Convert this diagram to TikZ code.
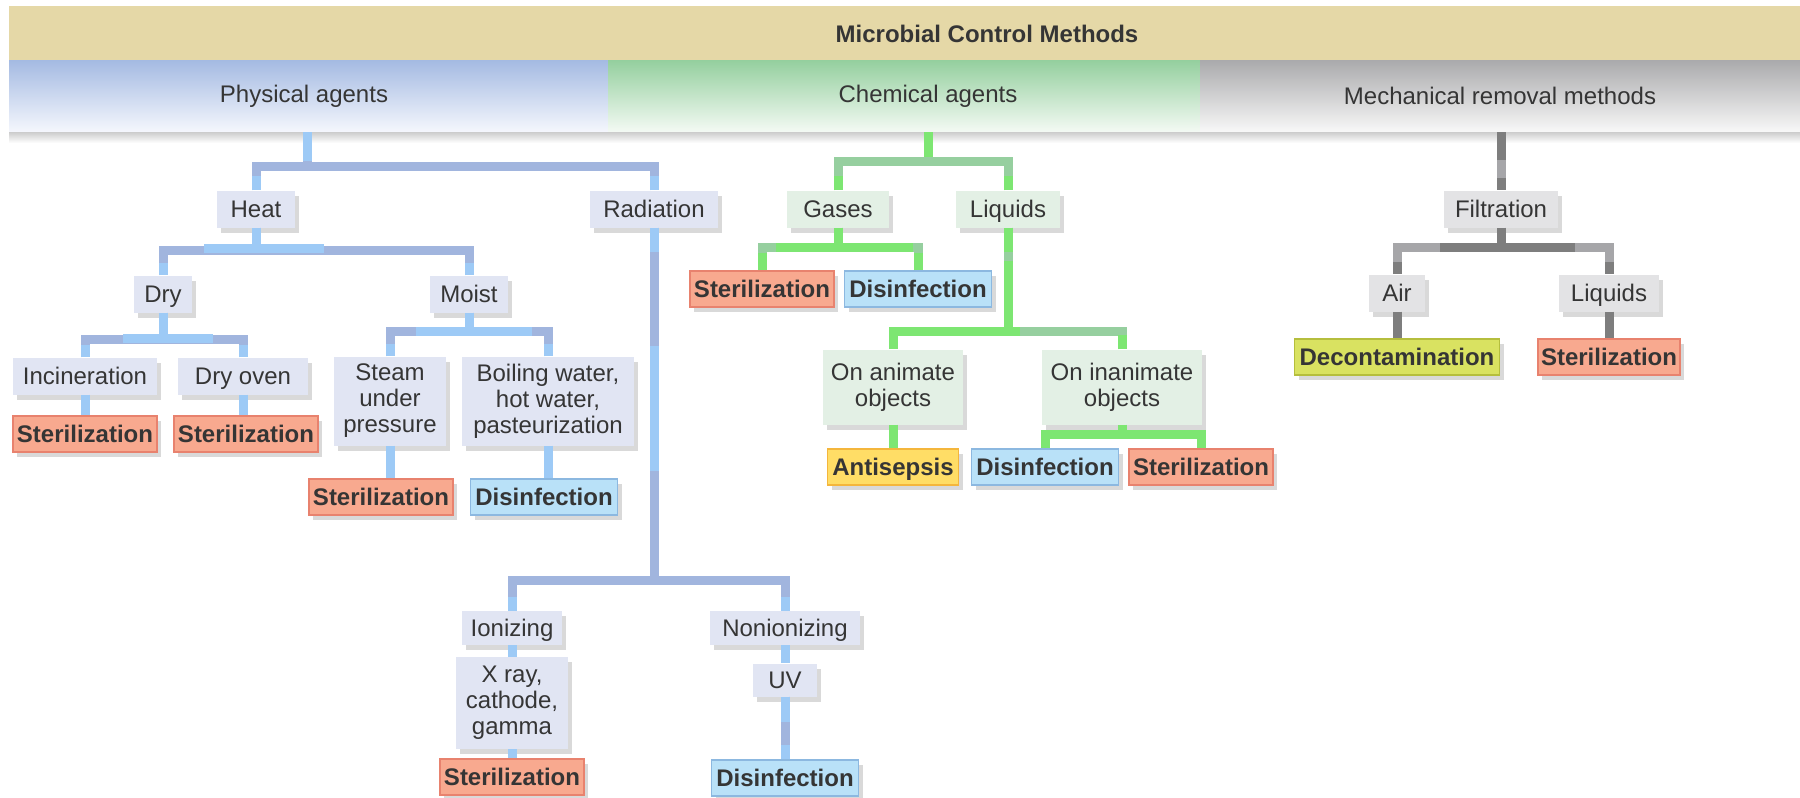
\documentclass[tikz,border=0pt]{standalone}
\usepackage{fontspec}
\setmainfont{Liberation Sans}
\usetikzlibrary{shadows}
\definecolor{tanc}{HTML}{E5D8A7}
\definecolor{pbt}{HTML}{A4BAE2}
\definecolor{pbb}{HTML}{F5F7FD}
\definecolor{cbt}{HTML}{94CF9E}
\definecolor{cbb}{HTML}{F4FAF4}
\definecolor{mbt}{HTML}{AAAAAC}
\definecolor{mbb}{HTML}{F8F8F8}
\definecolor{pfill}{HTML}{E1E5F3}
\definecolor{cfill}{HTML}{E3F0E5}
\definecolor{mfill}{HTML}{E3E3E5}
\definecolor{sterF}{HTML}{F8A98F}
\definecolor{sterD}{HTML}{E8826E}
\definecolor{disF}{HTML}{B9E1F8}
\definecolor{disD}{HTML}{8CB8E0}
\definecolor{antiF}{HTML}{FFDD66}
\definecolor{antiD}{HTML}{F4B63C}
\definecolor{deconF}{HTML}{D9E261}
\definecolor{deconD}{HTML}{B5BE3D}
\definecolor{txt}{HTML}{353535}
\definecolor{bmain}{HTML}{A1B5DE}
\definecolor{bacc}{HTML}{9DCAF6}
\definecolor{gmain}{HTML}{96CF9F}
\definecolor{gacc}{HTML}{7DE672}
\definecolor{kmain}{HTML}{7E7E7E}
\definecolor{kacc}{HTML}{A6A6A9}
\newcommand\myfs{\fontsize{24}{26}\selectfont}
\begin{document}
\begin{tikzpicture}[x=1pt,y=-1pt,
  boxbase/.style={font=\myfs, text=txt, align=center, inner sep=0pt, minimum height=37,
    drop shadow={shadow xshift=4pt, shadow yshift=-5pt, opacity=0.15, fill=black}},
  oneline/.style={text height=20pt, text depth=3pt},
  pbox/.style={boxbase, oneline, fill=pfill},
  cbox/.style={boxbase, oneline, fill=cfill},
  mbox/.style={boxbase, oneline, fill=mfill},
  pmulti/.style={boxbase, fill=pfill},
  cmulti/.style={boxbase, fill=cfill},
  resbox/.style={boxbase, oneline, font=\myfs\bfseries, line width=1.2pt, minimum height=36},
  sterbox/.style={resbox, fill=sterF, draw=sterD, minimum width=144},
  disbox/.style={resbox, fill=disF, draw=disD, minimum width=147},
  antibox/.style={resbox, fill=antiF, draw=antiD, minimum width=131},
  deconbox/.style={resbox, fill=deconF, draw=deconD, minimum width=205},
  bandlabel/.style={font=\myfs, text=txt},
  bconn/.style={draw=bmain, line width=9pt},
  bhi/.style={draw=bacc, line width=9pt},
  gconn/.style={draw=gmain, line width=9pt},
  ghi/.style={draw=gacc, line width=9pt},
  kconn/.style={draw=kmain, line width=9pt},
  khi/.style={draw=kacc, line width=9pt}]
\useasboundingbox (0,0) rectangle (1800,798);
\fill[white] (0,0) rectangle (1800,798);

% ---------- banner ----------
\fill[tanc] (9,6) rectangle (1800,60);
\shade[top color=pbt, bottom color=pbb] (9,60) rectangle (608,132);
\shade[top color=cbt, bottom color=cbb] (608,60) rectangle (1200,132);
\shade[top color=mbt, bottom color=mbb] (1200,60) rectangle (1800,132);
\shade[top color=black!20, bottom color=white] (9,132) rectangle (1800,143);
\node[font=\myfs\bfseries, text=txt] (title) at (987,34) {Microbial Control Methods};
\node[bandlabel] (pa) at (304,96) {Physical agents};
\node[bandlabel] (ca) at (928,96) {Chemical agents};
\node[bandlabel] (ma) at (1500,96) {Mechanical removal methods};

% ---------- physical nodes ----------
\node[pbox, minimum width=78] (heat) at (256,209) {Heat};
\node[pbox, minimum width=128] (rad) at (654,209) {Radiation};
\node[pbox, minimum width=58] (dry) at (163,294) {Dry};
\node[pbox, minimum width=78] (moist) at (469,294) {Moist};
\node[pbox, minimum width=144] (inc) at (85,376) {Incineration};
\node[pbox, minimum width=130] (oven) at (243,376) {Dry oven};
\node[pmulti, minimum width=112, minimum height=89] (steam) at (390,401) {Steam\\under\\pressure};
\node[pmulti, minimum width=172, minimum height=89] (boil) at (548,401) {Boiling water,\\hot water,\\pasteurization};
\node[pbox, minimum width=100, minimum height=34] (ion) at (512,628) {Ionizing};
\node[pbox, minimum width=150, minimum height=34] (nonion) at (785,628) {Nonionizing};
\node[pmulti, minimum width=112, minimum height=92] (xray) at (512,703) {X ray,\\cathode,\\gamma};
\node[pbox, minimum width=64, minimum height=33] (uv) at (785,680) {UV};
\node[sterbox] (s1) at (85,434) {Sterilization};
\node[sterbox] (s2) at (246,434) {Sterilization};
\node[sterbox] (s3) at (381,497) {Sterilization};
\node[disbox] (d1) at (544,497) {Disinfection};
\node[sterbox] (s4) at (512,777) {Sterilization};
\node[disbox] (d2) at (785,778) {Disinfection};

% ---------- chemical nodes ----------
\node[cbox, minimum width=102] (gas) at (838,209) {Gases};
\node[cbox, minimum width=104] (liq) at (1008,209) {Liquids};
\node[sterbox] (s5) at (762,289) {Sterilization};
\node[disbox] (d3) at (918,289) {Disinfection};
\node[cmulti, minimum width=140, minimum height=75] (anim) at (893,387) {On animate\\objects};
\node[cmulti, minimum width=160, minimum height=75] (inanim) at (1122,387) {On inanimate\\objects};
\node[antibox] (anti) at (893,467) {Antisepsis};
\node[disbox] (d4) at (1045,467) {Disinfection};
\node[sterbox] (s6) at (1201,467) {Sterilization};

% ---------- mechanical nodes ----------
\node[mbox, minimum width=114] (filt) at (1501,209) {Filtration};
\node[mbox, minimum width=56] (air) at (1397,293) {Air};
\node[mbox, minimum width=100] (liq2) at (1609,293) {Liquids};
\node[deconbox] (decon) at (1397,357) {Decontamination};
\node[sterbox, minimum width=142] (s7) at (1609,357) {Sterilization};

% ---------- junctions ----------
\coordinate (paB) at (307,132);
\coordinate (pj) at (307,166);
\coordinate (hj) at (256,250);
\coordinate (dj) at (163,339);
\coordinate (mj) at (469,331);
\coordinate (rj) at (654,580);
\coordinate (caB) at (928,132);
\coordinate (cj) at (928,161);
\coordinate (gj) at (838,247);
\coordinate (lj) at (1008,331);
\coordinate (ij) at (1122,434);
\coordinate (maB) at (1501,132);
\coordinate (fj) at (1501,247);

% ---------- physical connectors ----------
\draw[bconn] (paB) -- (pj) -| (heat.north);
\draw[bconn] (pj) -| (rad.north);
\draw[bconn] (heat.south) -- (hj) -| (dry.north);
\draw[bconn] (hj) -| (moist.north);
\draw[bconn] (dry.south) -- (dj) -| (inc.north);
\draw[bconn] (dj) -| (oven.north);
\draw[bconn] (moist.south) -- (mj) -| (steam.north);
\draw[bconn] (mj) -| (boil.north);
\draw[bconn] (rad.south) -- (rj) -| (ion.north);
\draw[bconn] (rj) -| (nonion.north);
\draw[bconn] (uv.south) -- (d2.north);
% highlights
\draw[bhi] (paB) -- ++(0,29);
\draw[bhi] (heat.north) -- ++(0,-14);
\draw[bhi] (rad.north) -- ++(0,-14);
\draw[bhi] (heat.south) -- ++(0,18);
\draw[bhi] (hj) ++(-52,-2) -- ++(120,0);
\draw[bhi] (dry.north) -- ++(0,-12);
\draw[bhi] (moist.north) -- ++(0,-12);
\draw[bhi] (dry.south) -- ++(0,22);
\draw[bhi] (moist.south) -- ++(0,14);
\draw[bhi] (dj) ++(-40,-1) -- ++(90,0);
\draw[bhi] (mj) ++(-53,0) -- ++(116,0);
\draw[bhi] (inc.north) -- ++(0,-12);
\draw[bhi] (oven.north) -- ++(0,-12);
\draw[bhi] (steam.north) -- ++(0,-12);
\draw[bhi] (boil.north) -- ++(0,-12);
\draw[bhi] (inc.south) -- (inc.south |- s1.north);
\draw[bhi] (oven.south) -- (oven.south |- s2.north);
\draw[bhi] (steam.south) -- (steam.south |- s3.north);
\draw[bhi] (boil.south) -- (boil.south |- d1.north);
\draw[bhi] (rad.south) -- ++(0,24);
\draw[bhi] (rad.south) ++(0,118) -- ++(0,125);
\draw[bhi] (ion.north) -- ++(0,-14);
\draw[bhi] (nonion.north) -- ++(0,-14);
\draw[bhi] (ion.south) -- (xray.north);
\draw[bhi] (xray.south) -- (xray.south |- s4.north);
\draw[bhi] (nonion.south) -- (uv.north);
\draw[bhi] (uv.south) -- ++(0,25);
\draw[bhi] (d2.north) -- ++(0,-14);

% ---------- chemical connectors ----------
\draw[gconn] (caB) -- (cj) -| (gas.north);
\draw[gconn] (cj) -| (liq.north);
\draw[gconn] (gas.south) -- (gj) -| (s5.north);
\draw[gconn] (gj) -| (d3.north);
\draw[gconn] (liq.south) -- (lj) -| (anim.north);
\draw[gconn] (lj) -| (inanim.north);
\draw[ghi] (caB) -- ++(0,25);
\draw[ghi] (gas.north) -- ++(0,-14);
\draw[ghi] (liq.north) -- ++(0,-14);
\draw[ghi] (gas.south) -- (gj);
\draw[ghi] (gj) ++(-62,0) -- ++(137,0);
\draw[ghi] (s5.north) -- ++(0,-17);
\draw[ghi] (d3.north) -- ++(0,-17);
\draw[ghi] (liq.south) -- ++(0,24);
\draw[ghi] (liq.south) ++(0,33) -- (lj);
\draw[ghi] (lj) ++(12,0) -- (lj -| anim.north) -- (anim.north);
\draw[ghi] (inanim.north) -- ++(0,-14);
\draw[ghi] (anim.south) -- (anim.south |- anti.north);
\draw[ghi] (inanim.south) -- (ij) -| (d4.north);
\draw[ghi] (ij) -| (s6.north);

% ---------- mechanical connectors ----------
\draw[kconn] (maB) -- (filt.north);
\draw[kconn] (filt.south) -- (fj) -| (air.north);
\draw[kconn] (fj) -| (liq2.north);
\draw[kconn] (air.south) -- (air.south |- decon.north);
\draw[kconn] (liq2.south) -- (liq2.south |- s7.north);
\draw[khi] (maB) ++(0,28) -- ++(0,18);
\draw[khi] (fj) ++(-61,0) -- (fj -| air.north) -- ++(0,15);
\draw[khi] (fj) ++(74,0) -- (fj -| liq2.north) -- ++(0,15);
\end{tikzpicture}
\end{document}
